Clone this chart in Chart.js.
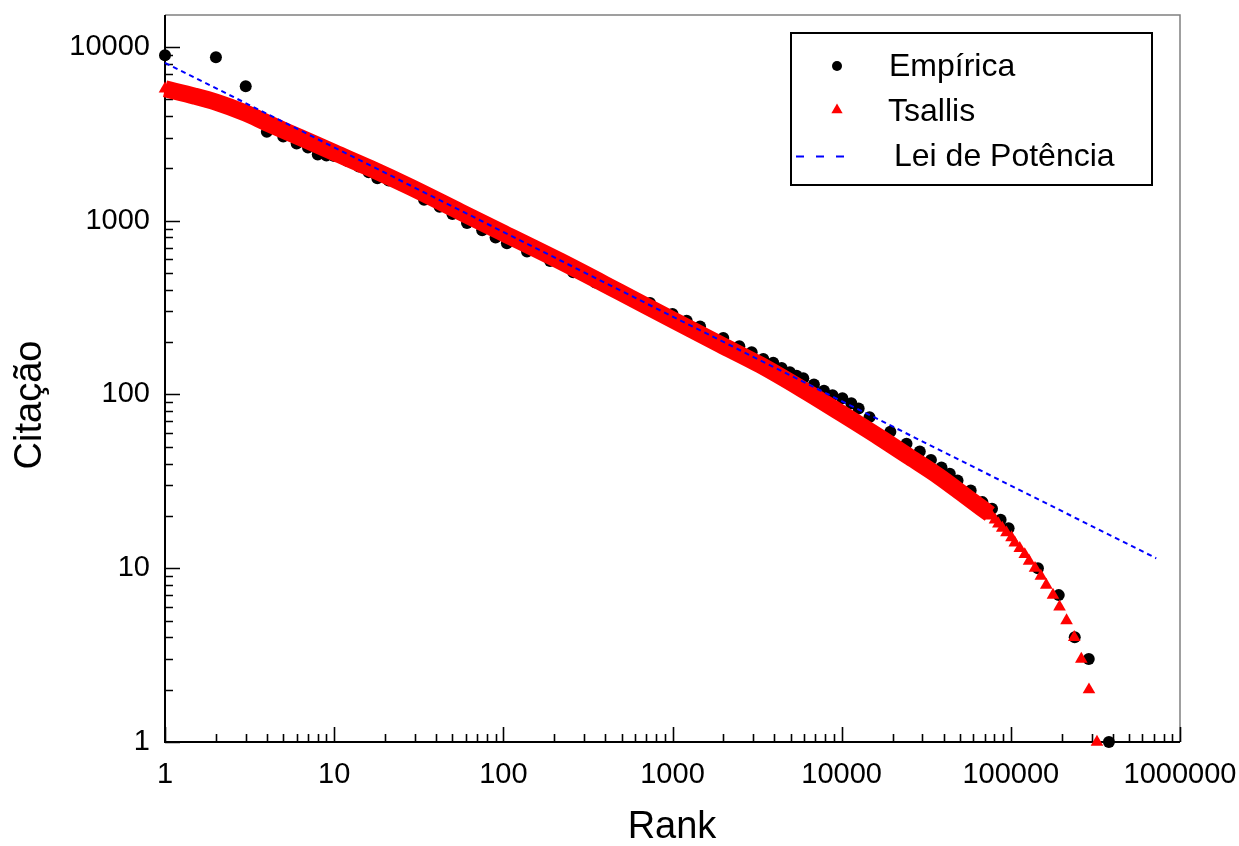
<!DOCTYPE html>
<html>
<head>
<meta charset="utf-8">
<title>Citação x Rank</title>
<script src="https://cdn.jsdelivr.net/npm/chart.js@4.4.1/dist/chart.umd.min.js"></script>
<style>
    html, body { margin: 0; padding: 0; background: #fff; }
    #wrap { width: 1239px; height: 846px; position: relative; }
</style>
</head>
<body>
<div id="wrap"><canvas id="rankChart"></canvas></div>
<script>
// dados (rank x citação)
const empRank = [1, 2, 3, 4, 5, 6, 7, 8, 9, 10, 12, 14, 16, 18, 21, 25, 29, 34, 42, 50, 61, 75, 90, 105,
    138, 189, 259, 350, 500, 736, 1000, 1213, 1455, 1995, 2482, 2937, 3440, 3940, 4415, 4943, 5415, 5930,
    6855, 7860, 8830, 10100, 11400, 12600, 14600, 19400, 24170, 28960, 33700, 38900, 43550, 48400, 57900,
    67900, 77400, 87000, 97000, 144600, 192000, 238600, 288900, 380000];
const empCit = [8950, 8700, 5930, 3240, 3050, 2780, 2630, 2400, 2370, 2350, 2200, 2050, 1900, 1750, 1700, 1600, 1580, 1320, 1200, 1090, 970, 880, 800, 740,
    665, 585, 505, 440, 375, 336, 290, 265, 246, 211, 189, 175, 160, 152, 142, 134, 128, 124,
    114, 105, 99, 95, 89, 83, 74, 61, 52, 47, 42, 38, 35, 32, 28,
    24, 22, 19, 17, 10, 7, 4, 3, 1];

const tsRank = [1, 1.5, 2, 3, 4, 6.3, 10, 16.3, 28.1, 55.6, 100, 217, 490, 1000, 1910, 3290, 5665,
    10000, 16800, 25300, 38000, 53400, 75100, 77000, 80600, 84400, 89000, 94200, 100900, 105500, 112900,
    120900, 128200, 139000, 150500, 162000, 177500, 194000, 213500, 237000, 261000, 289700, 323000];
const tsCit = [5730, 5200, 4800, 4150, 3650, 3005, 2462, 2000, 1563, 1124, 847, 584, 387, 269, 194, 148, 109,
    77.6, 56.5, 43.5, 33.5, 26.2, 20.5, 20, 19, 18, 17, 16, 15, 14, 13,
    12, 11, 10, 9, 8, 7, 6, 5, 4, 3, 2, 1];

const plRank = [1, 724000];
const plCit = [8090, 11.4];

const xTickValues = [1, 10, 100, 1000, 10000, 100000, 1000000];
const yTickValues = [1, 10, 100, 1000, 10000];

const FONT = "'Liberation Sans', Arial, sans-serif";

function toPoints(xs, ys) {
    return xs.map((x, i) => ({ x: x, y: ys[i] }));
}

// faixa densa do ajuste de Tsallis (pontos sobrepostos)
const bandPoints = toPoints(tsRank, tsCit).filter(p => p.y >= 20.5);

// moldura, ticks internos e títulos dos eixos
const frameTicks = {
    id: 'frameTicks',
    beforeDatasetsDraw(chart) {
        const { ctx, chartArea: a, scales: { x, y } } = chart;
        ctx.save();
        ctx.strokeStyle = '#808080';
        ctx.lineWidth = 1.5;
        ctx.beginPath();
        ctx.moveTo(a.left, a.top);
        ctx.lineTo(a.right, a.top);
        ctx.lineTo(a.right, a.bottom);
        ctx.stroke();

        ctx.strokeStyle = '#000';
        ctx.lineWidth = 2;
        ctx.beginPath();
        ctx.moveTo(a.left, a.top);
        ctx.lineTo(a.left, a.bottom);
        ctx.lineTo(a.right, a.bottom);
        ctx.stroke();

        ctx.lineWidth = 1.6;
        ctx.beginPath();
        for (let k = 0; k <= 6; k++) {
            for (let m = 1; m <= 9; m++) {
                const v = m * Math.pow(10, k);
                if (v > x.max * 1.0001) break;
                const px = Math.round(x.getPixelForValue(v)) + 0.5;
                const len = m === 1 ? 15 : 8;
                ctx.moveTo(px, a.bottom);
                ctx.lineTo(px, a.bottom - len);
            }
        }
        for (let k = 0; k <= 5; k++) {
            for (let m = 1; m <= 9; m++) {
                const v = m * Math.pow(10, k);
                if (v > y.max) break;
                const py = Math.round(y.getPixelForValue(v)) + 0.5;
                const len = m === 1 ? 15 : 8;
                ctx.moveTo(a.left, py);
                ctx.lineTo(a.left + len, py);
            }
        }
        ctx.stroke();

        ctx.fillStyle = '#000';
        ctx.font = '38px ' + FONT;
        ctx.textAlign = 'center';
        ctx.textBaseline = 'middle';
        ctx.fillText('Rank', 672, 828);
        ctx.translate(31, 405);
        ctx.rotate(-Math.PI / 2);
        ctx.fillText('Citação', 0, 0);
        ctx.restore();
    }
};

// legenda em caixa no canto superior direito
const boxLegend = {
    id: 'boxLegend',
    afterDraw(chart) {
        const ctx = chart.ctx;
        ctx.save();
        ctx.fillStyle = '#fff';
        ctx.fillRect(791, 33, 361, 152);
        ctx.strokeStyle = '#000';
        ctx.lineWidth = 2;
        ctx.strokeRect(791, 33, 361, 152);

        ctx.fillStyle = '#000';
        ctx.beginPath();
        ctx.arc(837, 66, 5, 0, Math.PI * 2);
        ctx.fill();

        const r = 6.5;
        ctx.fillStyle = '#ff0000';
        ctx.beginPath();
        ctx.moveTo(837, 110 - r);
        ctx.lineTo(837 + r * Math.sin(2 * Math.PI / 3), 110 + r / 2);
        ctx.lineTo(837 - r * Math.sin(2 * Math.PI / 3), 110 + r / 2);
        ctx.closePath();
        ctx.fill();

        ctx.strokeStyle = '#0000ff';
        ctx.lineWidth = 2;
        ctx.setLineDash([8, 12]);
        ctx.beginPath();
        ctx.moveTo(796, 156.5);
        ctx.lineTo(850, 156.5);
        ctx.stroke();
        ctx.setLineDash([]);

        ctx.fillStyle = '#000';
        ctx.font = '32px ' + FONT;
        ctx.textAlign = 'left';
        ctx.textBaseline = 'middle';
        ctx.fillText('Empírica', 889, 67);
        ctx.fillText('Tsallis', 888, 112);
        ctx.fillText('Lei de Potência', 894, 157);
        ctx.restore();
    }
};

new Chart(document.getElementById('rankChart'), {
    type: 'scatter',
    data: {
        datasets: [{
            label: 'Lei de Potência',
            data: toPoints(plRank, plCit),
            showLine: true,
            borderColor: '#0000ff',
            borderWidth: 2,
            borderDash: [5, 4],
            pointRadius: 0,
            order: 0,
            clip: false
        }, {
            label: 'Tsallis',
            data: toPoints(tsRank, tsCit),
            backgroundColor: '#ff0000',
            pointStyle: 'triangle',
            pointRadius: 7.3,
            pointBorderWidth: 0,
            order: 1,
            clip: false
        }, {
            label: 'Tsallis faixa',
            data: bandPoints,
            showLine: true,
            borderColor: '#ff0000',
            borderWidth: 17,
            cubicInterpolationMode: 'monotone',
            pointRadius: 0,
            order: 2,
            clip: false
        }, {
            label: 'Empírica',
            data: toPoints(empRank, empCit),
            backgroundColor: '#000',
            pointRadius: 6,
            pointBorderWidth: 0,
            order: 3,
            clip: false
        }]
    },
    options: {
        responsive: true,
        maintainAspectRatio: false,
        animation: false,
        layout: { padding: { left: 0, top: 15, right: 59, bottom: 0 } },
        plugins: {
            legend: { display: false },
            tooltip: { enabled: false }
        },
        scales: {
            x: {
                type: 'logarithmic',
                position: 'bottom',
                min: 1,
                max: 1000000,
                grid: { display: false, drawTicks: false },
                border: { display: false },
                afterBuildTicks: s => { s.ticks = xTickValues.map(v => ({ value: v })); },
                afterFit: s => {
                    s.height = 104;
                    s.paddingLeft = 0;
                    s.paddingRight = 0;
                },
                ticks: {
                    font: { family: FONT, size: 29 },
                    color: '#000',
                    padding: 16,
                    maxRotation: 0,
                    autoSkip: false,
                    callback: v => String(v)
                }
            },
            y: {
                type: 'logarithmic',
                position: 'left',
                min: 1,
                max: 15240,
                grid: { display: false, drawTicks: false },
                border: { display: false },
                afterBuildTicks: s => { s.ticks = yTickValues.map(v => ({ value: v })); },
                afterFit: s => {
                    s.width = 165;
                    s.paddingTop = 0;
                    s.paddingBottom = 0;
                },
                ticks: {
                    font: { family: FONT, size: 29 },
                    color: '#000',
                    padding: 15,
                    autoSkip: false,
                    callback: v => String(v)
                }
            }
        }
    },
    plugins: [frameTicks, boxLegend]
});
</script>
</body>
</html>
